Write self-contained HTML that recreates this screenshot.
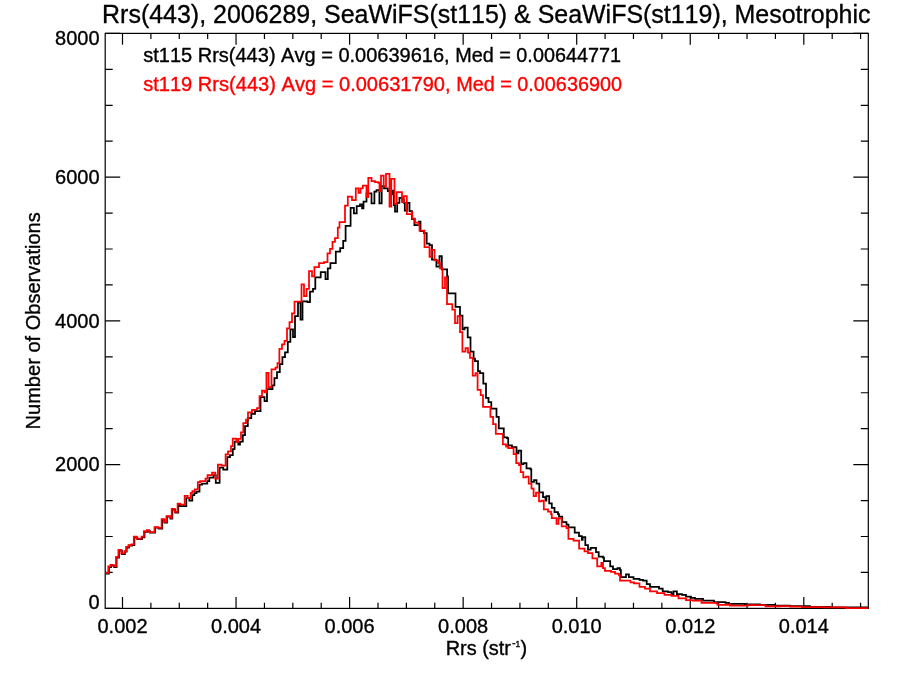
<!DOCTYPE html>
<html><head><meta charset="utf-8"><title>Rrs(443) histogram</title>
<style>
html,body{margin:0;padding:0;background:#fff;}
body{width:900px;height:675px;overflow:hidden;font-family:"Liberation Sans",sans-serif;}
svg{display:block;will-change:transform;}
text{font-family:"Liberation Sans",sans-serif;fill:#000;font-kerning:none;stroke:#000;stroke-width:0.35px;stroke-linejoin:round;}
</style></head><body>
<svg width="900" height="675" viewBox="0 0 900 675">
<rect x="0" y="0" width="900" height="675" fill="#ffffff"/>
<text x="102.1" y="22.9" font-size="26.3" textLength="768.4" lengthAdjust="spacingAndGlyphs">Rrs(443), 2006289, SeaWiFS(st115) &amp; SeaWiFS(st119), Mesotrophic</text>
<g fill="none" stroke="#000" stroke-width="1.2">
<rect x="105.2" y="33.4" width="763.10" height="575.00"/>
<path d="M122.50 608.40V597.00M122.50 33.40V44.80M150.89 608.40V602.70M150.89 33.40V39.10M179.28 608.40V602.70M179.28 33.40V39.10M207.66 608.40V602.70M207.66 33.40V39.10M236.05 608.40V597.00M236.05 33.40V44.80M264.44 608.40V602.70M264.44 33.40V39.10M292.83 608.40V602.70M292.83 33.40V39.10M321.21 608.40V602.70M321.21 33.40V39.10M349.60 608.40V597.00M349.60 33.40V44.80M377.99 608.40V602.70M377.99 33.40V39.10M406.38 608.40V602.70M406.38 33.40V39.10M434.76 608.40V602.70M434.76 33.40V39.10M463.15 608.40V597.00M463.15 33.40V44.80M491.54 608.40V602.70M491.54 33.40V39.10M519.93 608.40V602.70M519.93 33.40V39.10M548.31 608.40V602.70M548.31 33.40V39.10M576.70 608.40V597.00M576.70 33.40V44.80M605.09 608.40V602.70M605.09 33.40V39.10M633.47 608.40V602.70M633.47 33.40V39.10M661.86 608.40V602.70M661.86 33.40V39.10M690.25 608.40V597.00M690.25 33.40V44.80M718.64 608.40V602.70M718.64 33.40V39.10M747.03 608.40V602.70M747.03 33.40V39.10M775.41 608.40V602.70M775.41 33.40V39.10M803.80 608.40V597.00M803.80 33.40V44.80M832.19 608.40V602.70M832.19 33.40V39.10M860.57 608.40V602.70M860.57 33.40V39.10M105.20 608.40H120.20M868.30 608.40H853.30M105.20 572.46H112.70M868.30 572.46H860.80M105.20 536.52H112.70M868.30 536.52H860.80M105.20 500.59H112.70M868.30 500.59H860.80M105.20 464.65H120.20M868.30 464.65H853.30M105.20 428.71H112.70M868.30 428.71H860.80M105.20 392.77H112.70M868.30 392.77H860.80M105.20 356.84H112.70M868.30 356.84H860.80M105.20 320.90H120.20M868.30 320.90H853.30M105.20 284.96H112.70M868.30 284.96H860.80M105.20 249.02H112.70M868.30 249.02H860.80M105.20 213.09H112.70M868.30 213.09H860.80M105.20 177.15H120.20M868.30 177.15H853.30M105.20 141.21H112.70M868.30 141.21H860.80M105.20 105.28H112.70M868.30 105.28H860.80M105.20 69.34H112.70M868.30 69.34H860.80M105.20 33.40H120.20M868.30 33.40H853.30"/>
</g>
<g font-size="20.0"><text x="122.50" y="633.4" text-anchor="middle">0.002</text><text x="236.05" y="633.4" text-anchor="middle">0.004</text><text x="349.60" y="633.4" text-anchor="middle">0.006</text><text x="463.15" y="633.4" text-anchor="middle">0.008</text><text x="576.70" y="633.4" text-anchor="middle">0.010</text><text x="690.25" y="633.4" text-anchor="middle">0.012</text><text x="803.80" y="633.4" text-anchor="middle">0.014</text><text x="99.6" y="608.70" text-anchor="end">0</text><text x="99.6" y="471.25" text-anchor="end">2000</text><text x="99.6" y="327.50" text-anchor="end">4000</text><text x="99.6" y="183.75" text-anchor="end">6000</text><text x="99.6" y="44.70" text-anchor="end">8000</text></g>
<text x="143.2" y="62.2" font-size="19.9" textLength="306.5" lengthAdjust="spacingAndGlyphs">st115 Rrs(443) Avg = 0.00639616,</text>
<text x="455.2" y="62.2" font-size="19.9" textLength="165.9" lengthAdjust="spacingAndGlyphs">Med = 0.00644771</text>
<text x="143.2" y="90.6" font-size="19.9" textLength="307.4" lengthAdjust="spacingAndGlyphs" style="fill:#ff0000;stroke:#ff0000">st119 Rrs(443) Avg = 0.00631790,</text>
<text x="456.2" y="90.6" font-size="19.9" textLength="165.8" lengthAdjust="spacingAndGlyphs" style="fill:#ff0000;stroke:#ff0000">Med = 0.00636900</text>
<text transform="translate(39.5,320.85) rotate(-90)" font-size="20.6" text-anchor="middle" textLength="217.2" lengthAdjust="spacingAndGlyphs">Number of Observations</text>
<text x="445.7" y="654.9" font-size="19.9">Rrs (str</text>
<rect x="512.3" y="643.1" width="3.1" height="1.2" fill="#000"/>
<text x="515.6" y="647.2" font-size="8.4">1</text>
<text x="520.6" y="654.9" font-size="19.9">)</text>
<path d="M105.3 573.6H108.9V567.1H111.1V565.5H114.2V567.1H116.6V557.6H119.0V550.5H121.9V554.0H124.9V551.7H126.7V547.5H129.0V545.7H132.0V545.1H134.4V537.4H137.3V539.2H142.1V537.4H144.5V531.8H147.4V530.9H149.8V532.7H155.1V527.7H158.7V528.6H162.2V519.7H164.6V522.6H167.0V516.7H170.5V518.5H172.3V509.6H175.3V512.6H178.2V504.3H180.0V506.0H186.3V498.0H189.3V500.5H192.3V495.0H194.3V493.0H196.5V491.5H199.5V484.5H202.0V483.5H207.3V481.0H209.3V477.5H213.5V475.0H215.8V482.8H219.6V467.5H223.3V469.5H227.3V457.0H230.0V455.0H232.8V449.0H234.6V441.5H238.3V444.5H240.0V441.5H242.8V435.0H245.0V426.0H247.8V418.0H251.3V413.8H255.0V411.0H260.5V397.0H264.5V401.0H267.0V389.0H272.5V385.3H274.4V378.2H277.0V372.0H279.8V364.0H282.4V357.0H285.0V352.4H287.8V341.8H290.4V329.3H293.0V337.0H295.0V316.0H298.0V302.7H300.5V319.6H302.5V301.3H307.5V302.2H310.0V291.6H313.0V288.9H315.3V277.3H320.7V272.0H325.5V279.0H327.8V268.4H330.4V263.1H335.8V251.6H340.2V248.0H343.2V240.9H345.6V225.8H350.6V207.8H353.9V213.3H356.7V206.1H360.0V204.4H362.0V208.3H363.5V201.7H366.5V193.3H371.5V203.3H374.4V191.7H376.5V190.0H379.4V203.3H381.7V186.1H384.0V188.3H387.8V191.1H390.0V194.4H392.2V190.6H393.9V205.0H395.0V211.7H397.2V202.8H399.4V197.8H402.0V199.5H403.9V202.8H404.8V210.6H407.2V202.8H409.5V211.0H412.0V219.0H414.4V225.0H418.9V221.7H420.5V231.1H424.0V233.0H426.7V243.6H429.5V245.0H432.0V259.6H436.4V266.7H439.5V256.0H441.8V269.3H447.1V276.4H448.0V293.3H455.5V306.9H460.0V315.6H462.5V329.3H464.5V327.6H467.7V337.3H470.5V351.6H473.6V358.7H475.0V361.0H478.0V371.1H480.0V373.0H483.3V383.6H486.0V397.8H488.5V402.2H491.3V408.7H496.5V416.9H498.8V428.4H503.8V437.3H507.0V438.2H508.2V445.3H512.0V447.1H516.5V453.3H518.5V450.7H521.2V464.0H523.5V463.1H526.5V468.4H530.5V469.3H531.3V481.8H534.0V480.0H536.5V483.6H539.3V492.4H543.0V497.0H545.5V500.5H546.4V496.2H549.2V503.3H551.8V507.8H554.5V512.2H558.0V514.0H559.0V516.7H562.2V522.0H566.5V524.7H568.5V527.3H574.7V532.7H579.0V536.2H581.8V539.8H582.7V537.1H585.3V545.1H588.0V549.6H590.7V547.8H596.0V552.2H598.7V556.7H603.0V557.6H604.0V561.1H610.2V566.4H613.0V569.1H617.5V568.2H620.0V570.0H620.9V577.1H626.0V574.4H628.9V577.1H633.5V578.9H639.5V579.8H643.0V580.7H646.7V584.2H650.0V586.9H655.5V586.9H659.0V588.7H662.7V591.3H668.0V592.2H671.5V594.0H673.5V591.3H676.9V594.0H682.0V594.9H686.0V596.7H691.0V597.8H695.0V598.9H703.0V600.6H714.0V602.2H725.5V602.8H729.0V603.9H745.0V604.3H760.0V604.8H775.0V605.5H790.0V606.0H810.0V606.8H830.0V607.3H868.0V607.8H868.3" fill="none" stroke="#000000" stroke-width="1.75" stroke-linejoin="miter"/>
<path d="M105.2 572.9H108.3V566.4H110.5V564.8H113.6V566.4H116.0V556.9H118.4V549.8H121.3V553.3H124.3V551.0H126.1V546.8H128.4V545.0H131.4V544.4H133.8V536.7H136.7V538.5H141.5V536.7H143.9V531.1H146.8V530.2H149.2V532.0H154.5V527.0H158.1V527.9H161.6V519.0H164.0V521.9H166.4V516.0H169.9V517.8H171.7V508.9H174.7V511.9H177.6V503.6H180.4V504.5H184.7V495.8H187.7V498.1H190.7V492.8H192.4V491.0H194.8V489.3H197.8V482.1H200.1V481.2H205.5V478.6H207.5V475.0H212.0V472.7H215.3V478.6H217.9V464.6H221.5V465.6H225.6V454.3H228.0V451.3H231.0V446.0H232.7V438.5H236.3V441.9H238.1V438.9H241.0V432.4H243.3V423.1H246.0V419.6H248.0V412.4H252.0V409.8H257.0V408.0H259.5V396.0H262.0V390.7H264.5V392.4H266.4V372.9H268.5V387.1H271.5V369.3H275.5V367.6H277.5V363.1H279.4V348.9H282.0V344.4H284.5V340.9H287.0V328.4H289.5V322.2H292.0V313.3H294.5V301.5H301.5V284.4H304.0V296.0H306.5V288.9H309.0V271.1H312.0V276.4H314.4V267.2H319.0V263.1H324.0V262.2H327.5V253.3H330.0V248.9H332.5V241.8H335.0V238.2H337.8V227.6H339.5V222.2H345.0V205.6H347.8V196.7H352.0V200.0H355.8V188.3H358.5V192.8H360.5V188.3H362.8V185.6H366.5V197.2H368.3V177.8H371.5V181.1H375.0V182.0H378.3V182.8H379.5V191.1H381.0V175.6H383.7V186.7H386.0V173.9H389.5V206.7H391.3V178.9H394.5V203.9H396.7V192.2H402.0V202.2H403.9V196.1H406.8V214.0H411.7V212.0H412.3V218.5H415.0V222.5H418.5V224.9H419.5V230.5H424.5V247.1H429.5V256.9H431.5V249.8H434.5V260.4H438.0V263.1H440.0V268.4H442.5V288.0H445.0V277.3H447.0V304.0H452.3V309.5H455.0V323.1H457.6V316.0H460.0V332.0H462.4V351.6H465.5V348.0H468.0V352.5H470.0V357.8H472.7V375.6H475.5V373.0H477.6V389.8H480.7V395.1H483.0V406.8H490.4V416.9H493.1V424.0H495.8V433.8H502.9V444.4H506.0V446.5H508.2V448.0H513.6V454.2H516.2V463.1H519.0V465.0H520.7V472.0H523.3V477.3H526.0V476.5H528.7V483.6H531.5V488.5H533.6V496.0H536.0V492.5H539.0V501.3H541.5V500.5H543.8V509.3H548.0V511.5H551.0V514.0H551.8V518.2H556.5V523.8H558.5V518.4H561.7V526.4H566.5V528.2H568.4V538.9H573.5V540.7H579.1V548.7H584.5V551.3H588.0V553.1H592.4V558.4H597.2V566.4H601.3V562.9H603.0V568.2H604.9V570.9H611.0V571.8H615.0V573.6H619.0V575.3H620.0V580.7H629.0V580.7H630.5V582.4H634.0V583.3H639.5V586.9H645.0V588.7H650.0V591.3H657.0V593.1H664.5V594.9H671.5V595.8H678.5V598.4H686.0V600.2H693.0V600.6H701.5V602.8H716.5V603.4H717.5V604.8H728.0V604.4H730.0V605.6H746.0V605.5H748.0V605.0H764.0V605.2H765.5V606.3H780.0V606.1H790.0V606.5H802.0V607.0H824.0V607.4H846.0V608.0H868.3V608.0H868.3" fill="none" stroke="#ff0000" stroke-width="1.75" stroke-linejoin="miter"/>
</svg>
</body></html>
